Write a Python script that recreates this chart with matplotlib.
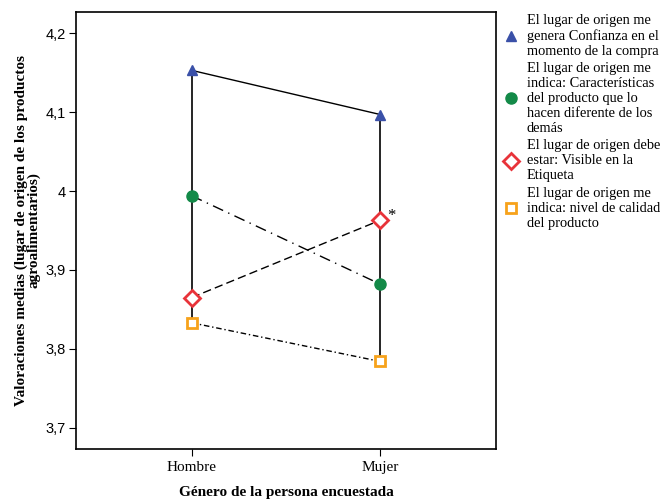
import numpy as np
import matplotlib.pyplot as plt
from matplotlib.ticker import FuncFormatter

plt.rcParams['font.family'] = ['Liberation Serif', 'DejaVu Serif']

generos = ['Hombre', 'Mujer']
confianza = [4.153, 4.097]
caracteristicas = [3.994, 3.882]
etiqueta = [3.865, 3.963]
calidad = [3.833, 3.784]

etiquetas_leyenda = [
    'El lugar de origen me\ngenera Confianza en el\nmomento de la compra',
    'El lugar de origen me\nindica: Características\ndel producto que lo\nhacen diferente de los\ndemás',
    'El lugar de origen debe\nestar: Visible en la\nEtiqueta',
    'El lugar de origen me\nindica: nivel de calidad\ndel producto',
]

fig = plt.figure(figsize=(6.6, 4.99), dpi=100)
ax = fig.add_axes([0.115, 0.1002, 0.6365, 0.8758])
x = np.arange(len(generos))

# lineas verticales (drop lines)
series = [confianza, caracteristicas, etiqueta, calidad]
for i in x:
    vals = [s[i] for s in series]
    ax.plot([i, i], [min(vals), max(vals)], color='black', lw=1.2, zorder=1)

ax.plot(x, confianza, color='black', lw=1, ls='-', zorder=2)
ax.plot(x, caracteristicas, color='black', lw=1, ls=(0, (8, 4, 1, 4)), zorder=2)
ax.plot(x, etiqueta, color='black', lw=1, ls=(0, (6, 3)), zorder=2)
ax.plot(x, calidad, color='black', lw=1, ls=(0, (4, 2, 1, 2)), zorder=2)

h1, = ax.plot(x, confianza, ls='none', marker='^', ms=7, color='#3a50a8', zorder=3)
h2, = ax.plot(x, caracteristicas, ls='none', marker='o', ms=8, color='#138a48', zorder=3)
h3, = ax.plot(x, etiqueta, ls='none', marker='D', ms=8, mfc='white', mec='#e8333a', mew=2, zorder=3)
h4, = ax.plot(x, calidad, ls='none', marker='s', ms=7, mfc='white', mec='#f7a21b', mew=2, zorder=3)

ax.annotate('*', (1, etiqueta[1]), xytext=(5, 0), textcoords='offset points', fontsize=12)

ax.set_xlim(-0.614, 1.614)
ax.set_ylim(3.673, 4.227)
ax.set_xticks(x)
ax.set_xticklabels(generos, fontsize=11)
ax.set_yticks([3.7, 3.8, 3.9, 4.0, 4.1, 4.2])
ax.yaxis.set_major_formatter(FuncFormatter(lambda v, p: ('%g' % round(v, 1)).replace('.', ',')))
for lab in ax.get_yticklabels():
    lab.set_family('Liberation Sans')
ax.tick_params(axis='y', labelsize=10.5, length=5, pad=2)
ax.tick_params(axis='x', length=5)
ax.set_ylabel('Valoraciones medias (lugar de origen de los productos\nagroalimentarios)',
              fontsize=11, fontweight='bold', linespacing=0.9)
ax.set_xlabel('Género de la persona encuestada', fontsize=11, fontweight='bold', labelpad=9)
for s in ax.spines.values():
    s.set_linewidth(1.2)

fig.legend([h1, h2, h3, h4], etiquetas_leyenda, loc='upper left',
           bbox_to_anchor=(0.754, 0.987), frameon=False,
           handlelength=0.8, handletextpad=0.7, labelspacing=0.3, borderpad=0,
           prop={'family': 'Liberation Serif', 'size': 10.4})

fig.savefig('out.png', dpi=100)
